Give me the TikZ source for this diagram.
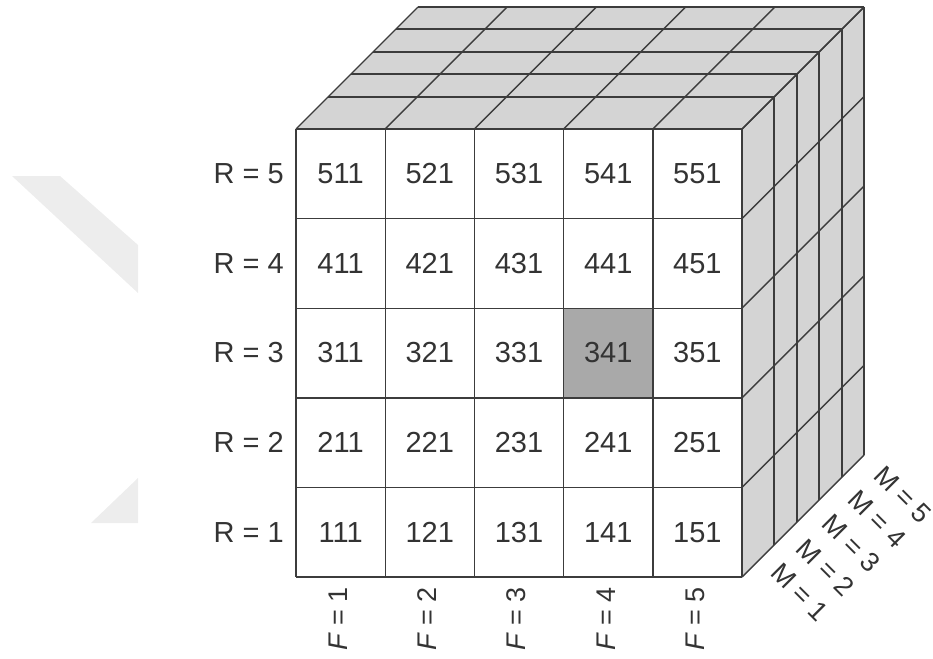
\documentclass[tikz,border=0pt]{standalone}
\usepackage{fontspec}
\setmainfont{Liberation Sans}
\definecolor{linec}{HTML}{3C3C3C}
\definecolor{facegray}{HTML}{D4D4D4}
\definecolor{cellshade}{HTML}{A9A9A9}
\definecolor{textc}{HTML}{333333}
\definecolor{wm}{HTML}{EDEDED}
\begin{document}
\begin{tikzpicture}[x=1pt,y=-1pt,line join=round,
  gl/.style={draw=linec,line width=1.4pt},
  lbl/.style={text=textc,font=\fontsize{29}{32}\selectfont,inner sep=0pt},
  slbl/.style={text=textc,font=\fontsize{27}{30}\selectfont,inner sep=0pt}]
\useasboundingbox (0,0) rectangle (933,658);
% watermark
\fill[wm] (12,176) -- (60,176) -- (138,245) -- (138,293) -- cycle;
\fill[wm] (138,478) -- (138,523) -- (91,523) -- cycle;
% faces
\fill[facegray] (296,129) -- (742,129) -- (864,7) -- (418,7) -- cycle;
\fill[facegray] (742,129) -- (864,7) -- (864,455) -- (742,577) -- cycle;
\fill[white] (296,129) rectangle (742,577);
\fill[cellshade] (296+89.2*3,129+89.6*2) rectangle (296+89.2*4,129+89.6*3);
% top face lines
\foreach \d in {0,32,55,77,100,122}
  \draw[gl] (296+\d,129-\d) -- (742+\d,129-\d);
\foreach \i in {0,...,5}
  \draw[gl] (296+89.2*\i,129) -- ++(122,-122);
% right face lines
\foreach \d in {0,32,55,77,100,122}
  \draw[gl] (742+\d,129-\d) -- (742+\d,577-\d);
\foreach \j in {0,...,5}
  \draw[gl] (742,129+89.6*\j) -- ++(122,-122);
% front grid
\foreach \i in {0,...,5}
  \draw[gl] (296+89.2*\i,129) -- (296+89.2*\i,577);
\foreach \j in {0,...,5}
  \draw[gl] (296,129+89.6*\j) -- (742,129+89.6*\j);
% cell numbers
\foreach \r in {1,...,5}{
  \foreach \f in {1,...,5}{
    \node[lbl] (c\r\f) at (296+89.2*\f-44.6, 129+89.6*5-89.6*\r+44.8) {\r\f1};
  }
  \node[lbl,anchor=east] (r\r) at (284, 129+89.6*5-89.6*\r+44.8) {R = \r};
}
% F labels
\foreach \f in {1,...,5}
  \node[slbl,rotate=90] (f\f) at (296+89.2*\f-47, 619) {\textit{F} = \f};
% M labels
\foreach \m in {1,...,5}
  \node[slbl,rotate=-45] (m\m) at (800+25.7*\m-25.7, 592-24.3*\m+24.3) {M = \m};
\end{tikzpicture}
\end{document}
